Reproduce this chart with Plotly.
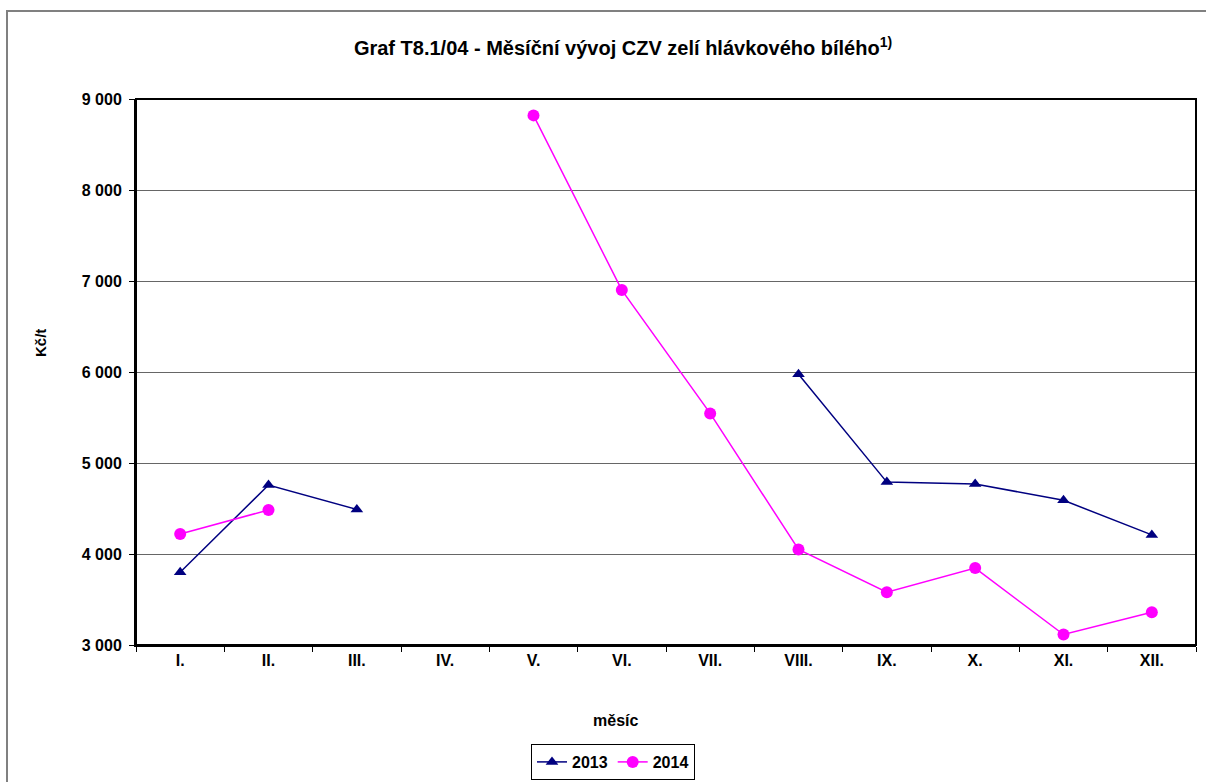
import plotly.graph_objects as go

months = ["I.", "II.", "III.", "IV.", "V.", "VI.", "VII.", "VIII.", "IX.", "X.", "XI.", "XII."]
y2013 = [3800, 4758, 4490, None, None, None, None, 5975, 4790, 4770, 4590, 4210]
y2014 = [4220, 4484, None, None, 8820, 6900, 5545, 4050, 3580, 3845, 3115, 3360]
yticks = [3000, 4000, 5000, 6000, 7000, 8000, 9000]
yticklabels = ["3 000", "4 000", "5 000", "6 000", "7 000", "8 000", "9 000"]

FONT = "Liberation Sans, Arial, sans-serif"

fig = go.Figure()
fig.add_trace(go.Scatter(
    x=months, y=y2013, name="<b>2013</b>", mode="lines+markers",
    line=dict(color="#000080", width=1.5),
    marker=dict(symbol="triangle-up", size=11, color="#000080"),
    connectgaps=False,
))
fig.add_trace(go.Scatter(
    x=months, y=y2014, name="<b>2014</b>", mode="lines+markers",
    line=dict(color="#FF00FF", width=1.5),
    marker=dict(symbol="circle", size=12, color="#FF00FF"),
    connectgaps=False,
))

W, H = 1206, 782
L, R, T, B = 136, 10, 99, 137
pw, ph = W - L - R, H - T - B

def px(x):
    return (x - L) / pw

def py(y):
    return 1 - (y - T) / ph

fig.update_layout(
    width=W, height=H,
    margin=dict(l=L, r=R, t=T, b=B, autoexpand=False),
    paper_bgcolor="white", plot_bgcolor="white",
    font=dict(family=FONT, color="black"),
    title=dict(
        text="<b>Graf T8.1/04 - Měsíční vývoj CZV zelí hlávkového bílého<sup>1)</sup></b>",
        x=623 / W, xanchor="center", y=1 - 48 / H, yanchor="middle",
        font=dict(size=20, family=FONT, color="black"),
    ),
    xaxis=dict(
        type="category", categoryorder="array", categoryarray=months,
        range=[-0.5, 11.5], automargin=False,
        tickmode="array", tickvals=months, ticktext=["<b>%s</b>" % m for m in months],
        tickson="boundaries", ticks="outside", ticklen=5, tickcolor="black",
        showline=True, linecolor="black", linewidth=2,
        showgrid=False,
        tickfont=dict(size=16, family=FONT),
    ),
    yaxis=dict(
        range=[3000, 9000], automargin=False,
        tickmode="array", tickvals=yticks, ticktext=["<b>%s</b>" % t for t in yticklabels],
        ticks="outside", ticklen=5, tickcolor="black", ticklabelstandoff=4,
        showline=True, linecolor="black", linewidth=2,
        showgrid=True, gridcolor="#666666", gridwidth=1,
        zeroline=False,
        tickfont=dict(size=16, family=FONT),
    ),
    legend=dict(
        orientation="h", x=px(613), xanchor="center", y=py(780), yanchor="bottom",
        bordercolor="black", borderwidth=1, bgcolor="white",
        font=dict(size=16, family=FONT),
        tracegroupgap=0,
    ),
    showlegend=True,
    annotations=[
        dict(text="<b>měsíc</b>", xref="paper", yref="paper", x=px(615), y=py(720),
             xanchor="center", yanchor="middle", showarrow=False,
             font=dict(size=16, family=FONT)),
        dict(text="<b>Kč/t</b>", xref="paper", yref="paper", x=px(40), y=py(343),
             xanchor="center", yanchor="middle", showarrow=False, textangle=-90,
             font=dict(size=15, family=FONT)),
    ],
)

# plot area frame
fig.add_shape(type="rect", xref="paper", yref="paper", x0=0, y0=0, x1=1, y1=1,
              line=dict(color="black", width=2), layer="above")
# outer chart border
fig.add_shape(type="rect", xref="paper", yref="paper",
              x0=px(7), y0=py(800), x1=px(1230), y1=py(11),
              line=dict(color="#808080", width=2), layer="below")

fig.write_html("out.html", config={"displayModeBar": False},
               post_script="document.body.style.margin='0';document.body.style.overflow='hidden';")
